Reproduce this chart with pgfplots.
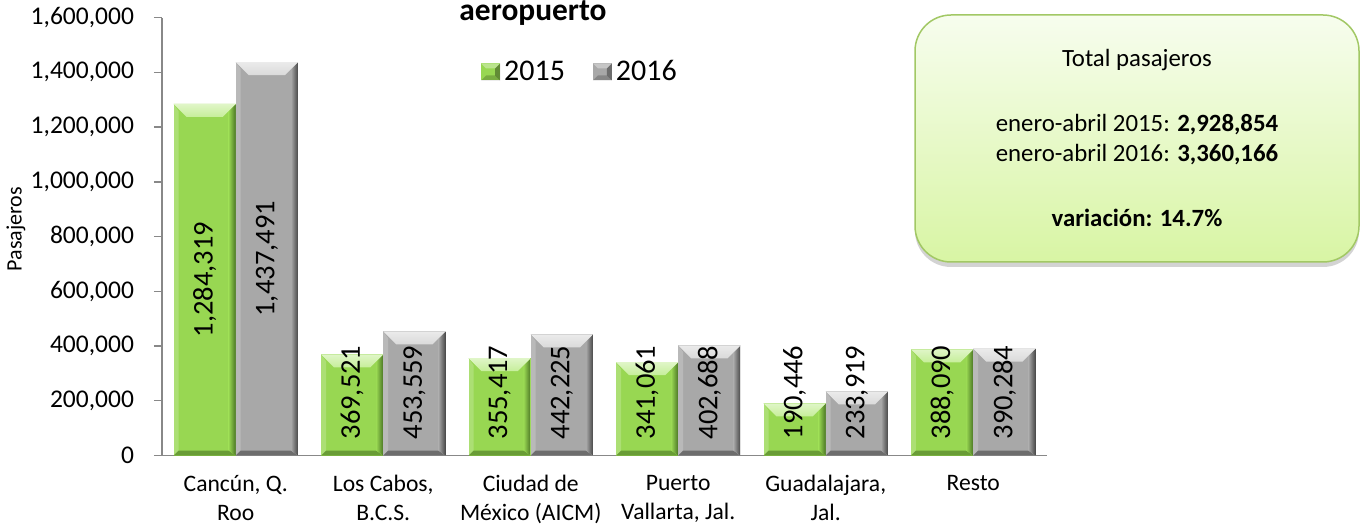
\documentclass[border=0pt]{standalone}
\usepackage{fontspec}
\setmainfont{Carlito}
\usepackage{pgfplots}
\pgfplotsset{compat=1.18}
\usepackage{pgfplotstable}
\usetikzlibrary{shadows}

\definecolor{gface}{HTML}{98D752}
\definecolor{gtop}{HTML}{C6EE9A}
\definecolor{gdark}{HTML}{4A7524}
\definecolor{sface}{HTML}{A8A8A8}
\definecolor{stop}{HTML}{DADADA}
\definecolor{sdark}{HTML}{474747}
\definecolor{boxborder}{HTML}{A2C865}
\definecolor{boxtop}{HTML}{F7FDEE}
\definecolor{boxbot}{HTML}{D8F5A4}
\definecolor{axisgray}{HTML}{888888}

\tikzset{
  nopp/.style={path picture={}},
  bevel/.style n args={3}{path picture={
    \path[nopp] (path picture bounding box.north west) coordinate (bnw)
          (path picture bounding box.north east) coordinate (bne)
          (path picture bounding box.south west) coordinate (bsw)
          (path picture bounding box.south east) coordinate (bse);
    \fill[nopp,#2,opacity=0.6] (bsw) -- (bse) -- ([shift={(-3.5pt,2.5pt)}]bse) -- ([shift={(2.5pt,2.5pt)}]bsw) -- cycle;
    \shade[nopp,left color=#3, right color=#2] (bne) -- (bse) -- ([shift={(-3.5pt,2.5pt)}]bse) -- ([shift={(-3.5pt,-3.5pt)}]bne) -- cycle;
    \fill[nopp,white,opacity=0.2] (bnw) -- (bsw) -- ([shift={(2.5pt,2.5pt)}]bsw) -- ([shift={(2.5pt,-3.5pt)}]bnw) -- cycle;
    \shade[nopp,top color=#1!55!white, bottom color=#1] (bnw) -- (bne) -- ([shift={(-6.5pt,-6.5pt)}]bne) -- ([shift={(6.5pt,-6.5pt)}]bnw) -- cycle;
  }}
}

\pgfplotstableread{
x      y
0      1284319
1      369521
2      355417
3      341061
4      190446
5      388090
}\tabA
\pgfplotstableread{
x      y
0      1437491
1      453559
2      442225
3      402688
4      233919
5      390284
}\tabB
\pgfplotstableread{
x       ly        v
-0.211  642159.5  1284319
0.789   230200    369521
1.789   230200    355417
2.789   230200    341061
3.789   230200    190446
4.789   230200    388090
0.211   718745.5  1437491
1.211   230200    453559
2.211   230200    442225
3.211   230200    402688
4.211   230200    233919
5.211   230200    390284
}\tabL

\begin{document}
\begin{tikzpicture}
\begin{axis}[
  at={(81pt,34.75pt)}, anchor=south west,
  scale only axis, width=442.5pt, height=218.95pt,
  xmin=-0.5, xmax=5.5, ymin=0, ymax=1600000,
  clip=false,
  axis x line*=bottom, axis y line*=left,
  axis line style={draw=axisgray, line width=0.7pt},
  xtick={0,1,2,3,4,5},
  xticklabels={{Cancún, Q.\\Roo},{Los Cabos,\\B.C.S.},{Ciudad de\\México (AICM)},{Puerto\\Vallarta, Jal.},{Guadalajara,\\Jal.},{Resto}},
  xtick style={draw=none},
  xticklabel style={align=center, font=\fontsize{11.8}{14.8}\selectfont, inner sep=0.5pt, yshift=-5pt},
  ytick={0,200000,400000,600000,800000,1000000,1200000,1400000,1600000},
  scaled y ticks=false,
  tick align=outside, major tick length=4pt,
  ytick style={draw=axisgray, line width=0.7pt},
  yticklabel style={font=\fontsize{12.75}{15}\selectfont, xshift=-6.5pt, /pgf/number format/.cd, fixed, precision=0, 1000 sep={,}, assume math mode=true},
  ylabel={Pasajeros},
  every axis y label/.style={at={(axis description cs:-0.165,0.517)}, rotate=90, anchor=center, font=\fontsize{11}{13}\selectfont},
  legend style={at={(0.4734,0.876)}, anchor=center, draw=none, fill=none,
    font=\fontsize{15}{18}\selectfont, legend columns=2,
    /tikz/every even column/.append style={column sep=12pt}},
  legend image code/.code={
    \fill[#1] (0pt,-4.25pt) rectangle (9.5pt,4.25pt);
    \fill[white,opacity=0.35] (0pt,4.25pt) -- (9.5pt,4.25pt) -- (7pt,1.75pt) -- (2.5pt,1.75pt) -- cycle;
    \fill[black,opacity=0.35] (9.5pt,4.25pt) -- (9.5pt,-4.25pt) -- (7pt,-1.75pt) -- (7pt,1.75pt) -- cycle;
    \fill[black,opacity=0.2] (0pt,-4.25pt) -- (9.5pt,-4.25pt) -- (7pt,-1.75pt) -- (2.5pt,-1.75pt) -- cycle;
  },
]
\addlegendimage{fill=gface, draw=none}
\addlegendentry{2015}
\addlegendimage{fill=sface, draw=none}
\addlegendentry{2016}
\pgfplotsinvokeforeach{0,1,2,3,4,5}{
  \addplot[forget plot, ybar, bar width=0.422, bar shift=-0.211, fill=gface, draw=none, bevel={gtop}{gdark}{gface}, restrict x to domain=#1:#1] table[x=x,y=y] {\tabA};
  \addplot[forget plot, ybar, bar width=0.422, bar shift=0.211, fill=sface, draw=none, bevel={stop}{sdark}{sface}, restrict x to domain=#1:#1] table[x=x,y=y] {\tabB};
}
\addplot[forget plot, draw=none, mark=none, point meta=explicit symbolic,
  nodes near coords={\pgfmathprintnumber[fixed,precision=0,1000 sep={,},assume math mode=true]{\pgfplotspointmeta}},
  every node near coord/.append style={rotate=90, anchor=center, font=\fontsize{14.25}{17}\selectfont, text=black}]
  table[x=x, y=ly, meta=v] {\tabL};
\end{axis}

\node[anchor=base, inner sep=0pt, font=\bfseries\fontsize{15.7}{19}\selectfont] at (266.5pt,252pt) {aeropuerto};

\draw[rounded corners=18pt, draw=boxborder, line width=0.75pt, top color=boxtop, bottom color=boxbot,
  drop shadow={shadow xshift=0pt, shadow yshift=-2.5pt, opacity=0.35, fill=gray}]
  (457.5pt,131.5pt) rectangle (679.5pt,255pt);
\begin{scope}[every node/.style={anchor=base, font=\fontsize{12.4}{15}\selectfont}]
\node at (568.5pt,229pt) {Total pasajeros};
\node at (568.5pt,196.5pt) {enero-abril 2015: \textbf{2,928,854}};
\node at (568.5pt,181.5pt) {enero-abril 2016: \textbf{3,360,166}};
\node at (568.5pt,149pt) {\textbf{variación: 14.7\%}};
\end{scope}

\pgfresetboundingbox
\useasboundingbox (0,0) rectangle (683pt,262.5pt);
\end{tikzpicture}
\end{document}
